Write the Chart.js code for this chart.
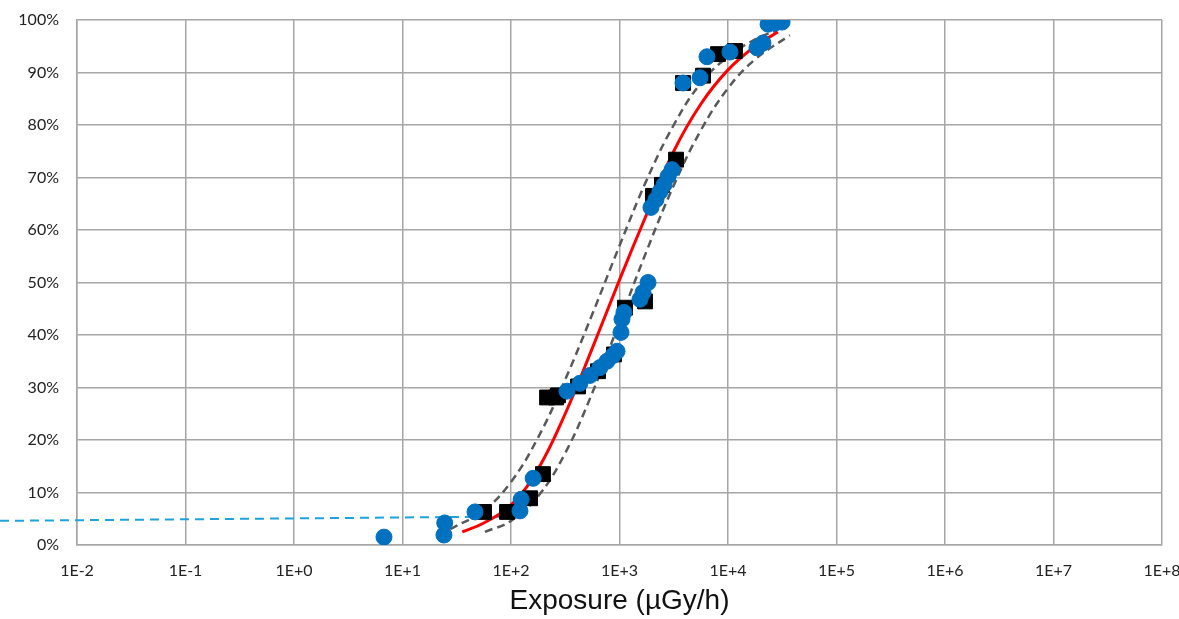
<!DOCTYPE html>
<html>
<head>
<meta charset="utf-8">
<script src="https://cdn.jsdelivr.net/npm/chart.js@4/dist/chart.umd.min.js"></script>
<style>
  html, body { margin: 0; padding: 0; background: #fff; overflow: hidden; }
  #wrap { width: 1179px; height: 619px; position: relative; }
</style>
</head>
<body>
<div id="wrap"><canvas id="grafico"></canvas></div>
<script>
// tick labels for the log x axis
const xTicks = [0.01, 0.1, 1, 10, 100, 1000, 10000, 100000, 1000000, 10000000, 100000000];
const xTickLabels = ["1E-2", "1E-1", "1E+0", "1E+1", "1E+2", "1E+3", "1E+4", "1E+5", "1E+6", "1E+7", "1E+8"];

// measured points (blue circles)
const medidosX = [6.75, 24.1, 24.5, 46.6, 121, 124, 160,
  328, 432, 535, 661, 767, 872, 949,
  1032, 1054, 1099, 1545, 1647, 1832,
  1950, 2168, 2360, 2570, 2798, 3048,
  3846, 5520, 6400, 10420, 18500, 21000, 23400, 27100, 31500];
const medidosY = [1.5, 1.9, 4.2, 6.3, 6.5, 8.7, 12.7,
  29.3, 30.8, 32.3, 33.8, 35.0, 36.1, 36.9,
  40.5, 43.0, 44.3, 46.8, 48.1, 50.0,
  64.3, 65.8, 67.3, 68.6, 70.2, 71.5,
  88.0, 89.0, 93.0, 93.9, 94.7, 95.6, 99.2, 99.4, 99.6];

// black squares
const quadX = [56.4, 91.9, 150, 197,
  215, 260, 271, 415, 634, 889,
  1124, 1718,
  2036, 2460, 3319,
  3846, 5890, 8090, 11600];
const quadY = [6.3, 6.3, 8.9, 13.5,
  28.1, 28.1, 28.5, 30.2, 33.1, 36.3,
  45.2, 46.4,
  66.5, 68.6, 73.4,
  88.0, 89.4, 93.5, 94.1];

// fitted curve (red)
const ajusteX = [35.5, 56.2, 100, 178, 316, 562, 1000, 1778, 3162, 5623, 10000, 17783, 28840];
const ajusteY = [2.5, 4.2, 7.6, 14.5, 25, 37.5, 50.5, 63, 75, 84, 90.5, 95, 97.7];

// confidence bounds (grey dashed)
const superiorX = [27.5, 56.2, 100, 178, 316, 562, 1000, 1778, 3162, 5623, 10000, 17783, 28180];
const superiorY = [3.0, 6.6, 12, 20.5, 31.5, 44, 57, 69.5, 80, 88, 93, 96.3, 98.0];
const inferiorX = [57.5, 100, 178, 316, 562, 1000, 1778, 3162, 5623, 10000, 17783, 37150];
const inferiorY = [2.5, 4.6, 9.3, 17.5, 29, 42.5, 56, 68.5, 79, 87, 92.5, 97.1];

// blue dashed reference line
const refX = [0.00195, 79];
const refY = [4.6, 5.4];

const yTicks = [0, 10, 20, 30, 40, 50, 60, 70, 80, 90, 100];

function pares(xs, ys) {
  return xs.map((x, i) => ({ x: x, y: ys[i] }));
}

const canvas = document.querySelector("#grafico");

const grafico = new Chart(canvas, {
  type: 'scatter',
  data: {
    datasets: [
      {
        label: 'medidos',
        data: pares(medidosX, medidosY),
        backgroundColor: '#0070C0',
        borderColor: '#0070C0',
        pointRadius: 8,
        pointHoverRadius: 8,
        order: 0
      },
      {
        label: 'quadrados',
        data: pares(quadX, quadY),
        backgroundColor: '#000000',
        borderColor: '#000000',
        pointStyle: 'rect',
        pointRadius: 10.5,
        pointHoverRadius: 10.5,
        order: 1
      },
      {
        label: 'ajuste',
        data: pares(ajusteX, ajusteY),
        showLine: true,
        borderColor: '#FF0000',
        borderWidth: 3,
        pointRadius: 0,
        tension: 0.4,
        order: 2
      },
      {
        label: 'superior',
        data: pares(superiorX, superiorY),
        showLine: true,
        borderColor: '#595959',
        borderWidth: 2.5,
        borderDash: [8, 5],
        pointRadius: 0,
        tension: 0.4,
        order: 3
      },
      {
        label: 'inferior',
        data: pares(inferiorX, inferiorY),
        showLine: true,
        borderColor: '#595959',
        borderWidth: 2.5,
        borderDash: [8, 5],
        pointRadius: 0,
        tension: 0.4,
        order: 4
      },
      {
        label: 'referencia',
        data: pares(refX, refY),
        showLine: true,
        borderColor: '#1CA3DE',
        borderWidth: 2,
        borderDash: [9, 6],
        pointRadius: 0,
        clip: false,
        order: 5
      }
    ]
  },
  options: {
    responsive: true,
    maintainAspectRatio: false,
    animation: false,
    layout: { padding: { top: 20, right: 17, left: 0, bottom: 0 } },
    plugins: {
      legend: { display: false },
      tooltip: { enabled: false }
    },
    scales: {
      x: {
        type: 'logarithmic',
        min: 0.01,
        max: 100000000,
        afterBuildTicks: (scale) => {
          scale.ticks = xTicks.map(v => ({ value: v }));
        },
        afterFit: (scale) => {
          scale.height = 74;
          scale.paddingLeft = 0;
          scale.paddingRight = 0;
        },
        ticks: {
          autoSkip: false,
          maxRotation: 0,
          padding: 16,
          color: '#222',
          font: { family: 'Lato', size: 16 },
          callback: (value, index) => xTickLabels[index]
        },
        grid: { color: '#A6A6A6', lineWidth: 1.5, drawTicks: false },
        border: { color: '#A6A6A6', width: 1.5 },
        title: {
          display: true,
          text: 'Exposure (µGy/h)',
          color: '#111',
          font: { family: 'Liberation Sans', size: 28 },
          padding: { top: 0, bottom: 1 }
        }
      },
      y: {
        min: 0,
        max: 100,
        afterBuildTicks: (scale) => {
          scale.ticks = yTicks.map(v => ({ value: v }));
        },
        afterFit: (scale) => {
          scale.width = 77;
          scale.paddingTop = 0;
          scale.paddingBottom = 0;
        },
        ticks: {
          padding: 18,
          color: '#222',
          font: { family: 'Lato', size: 16 },
          callback: (value) => value + '%'
        },
        grid: { color: '#A6A6A6', lineWidth: 1.5, drawTicks: false },
        border: { color: '#A6A6A6', width: 1.5 }
      }
    }
  }
});
</script>
</body>
</html>
